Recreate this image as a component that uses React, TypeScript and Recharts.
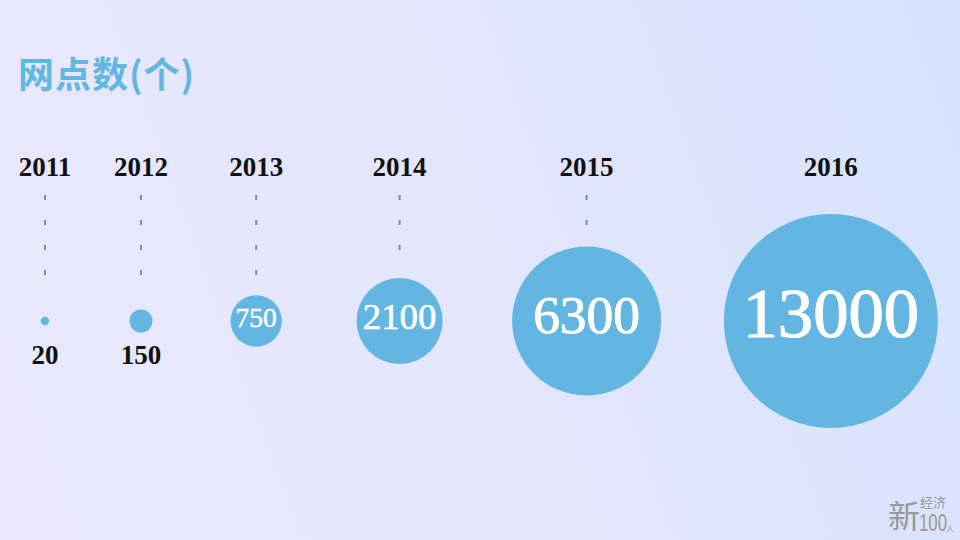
import React from 'react';
import { ScatterChart, Scatter, XAxis, YAxis, ZAxis } from 'recharts';

const years = ['2011', '2012', '2013', '2014', '2015', '2016'];
const outlets = [20, 150, 750, 2100, 6300, 13000];
const title = '网点数(个)';

// layout: bubbles packed left to right with a constant gap (in sqrt-value units)
const GAP = 97.7;
const data = (() => {
  let pos = 0;
  return outlets.map((v, i) => {
    if (i > 0) pos += Math.sqrt(outlets[i - 1]) + Math.sqrt(v) + GAP;
    return { year: years[i], value: v, x: pos, y: 0 };
  });
})();

const MAX_R = 107;
const BUBBLE = '#63b6e2';
const SERIF = '"Liberation Serif", "DejaVu Serif", serif';
const DASH = 5;
const PERIOD = 25;

const BubbleShape = (props: any) => {
  const { cx, cy, size, payload } = props;
  const r = Math.sqrt(Math.max(size, 0) / Math.PI);
  const inside = r > 20;
  const fs = 14 + 0.53 * r;
  const lineTop = cy - 126;
  const maxBottom = cy - r - 20;
  const n = Math.floor((maxBottom - lineTop - DASH) / PERIOD) + 1;
  const lineBottom = lineTop + (n - 1) * PERIOD + DASH;
  return (
    <g>
      <text x={cx} y={cy - 145} textAnchor="middle" fontFamily={SERIF} fontWeight="bold" fontSize={27} fill="#111">
        {payload.year}
      </text>
      {n > 0 && (
        <line
          x1={cx}
          x2={cx}
          y1={lineTop}
          y2={lineBottom}
          stroke="#8a8a8a"
          strokeWidth={2}
          strokeDasharray={`${DASH} ${PERIOD - DASH}`}
        />
      )}
      <circle cx={cx} cy={cy} r={r} fill={BUBBLE} />
      {inside ? (
        <text
          x={cx}
          y={cy}
          dy="0.22em"
          textAnchor="middle"
          fontFamily={SERIF}
          fontWeight="normal"
          fontSize={fs}
          fill="#ffffff"
          stroke="#ffffff"
          strokeWidth={fs / 60}
        >
          {payload.value}
        </text>
      ) : (
        <text x={cx} y={cy + 43} textAnchor="middle" fontFamily={SERIF} fontWeight="bold" fontSize={27} fill="#111">
          {payload.value}
        </text>
      )}
    </g>
  );
};

export default function App() {
  return (
    <div
      style={{
        position: 'absolute',
        left: 0,
        top: 0,
        width: 960,
        height: 540,
        overflow: 'hidden',
        background: 'linear-gradient(70deg, #ebe8fd 0%, #e3e6fd 50%, #d6e3fd 100%)',
      }}
    >
      <div
        style={{
          position: 'absolute',
          left: 18,
          top: 47,
          fontFamily: '"Noto Sans CJK SC", sans-serif',
          fontWeight: 'bold',
          fontSize: 36,
          lineHeight: '50px',
          color: '#63b6e2',
          whiteSpace: 'nowrap',
          letterSpacing: 1,
        }}
      >
        {title}
      </div>
      <ScatterChart width={960} height={540} margin={{ top: 102, right: 0, bottom: 0, left: 0 }}>
        <XAxis type="number" dataKey="x" hide domain={[-53.6, 1090.6]} />
        <YAxis type="number" dataKey="y" hide domain={[-1, 1]} />
        <ZAxis type="number" dataKey="value" domain={[0, 13000]} range={[0, Math.PI * MAX_R * MAX_R]} />
        <Scatter data={data} shape={BubbleShape} isAnimationActive={false} />
      </ScatterChart>
      <div style={{ position: 'absolute', left: 888, top: 494, color: '#9a9a9a', fontFamily: '"Noto Sans CJK SC", sans-serif' }}>
        <span style={{ position: 'absolute', left: 0, top: 0, fontSize: 32, lineHeight: '40px' }}>新</span>
        <span style={{ position: 'absolute', left: 32, top: 1, fontSize: 13, lineHeight: '13px', whiteSpace: 'nowrap' }}>经济</span>
        <span
          style={{
            position: 'absolute',
            left: 31,
            top: 21,
            fontSize: 24,
            lineHeight: '16px',
            fontFamily: '"Liberation Sans", sans-serif',
            transform: 'scaleX(0.7)',
            transformOrigin: 'left top',
            whiteSpace: 'nowrap',
          }}
        >
          100
        </span>
        <span style={{ position: 'absolute', left: 58, top: 31, fontSize: 8, lineHeight: '8px' }}>人</span>
      </div>
    </div>
  );
}
